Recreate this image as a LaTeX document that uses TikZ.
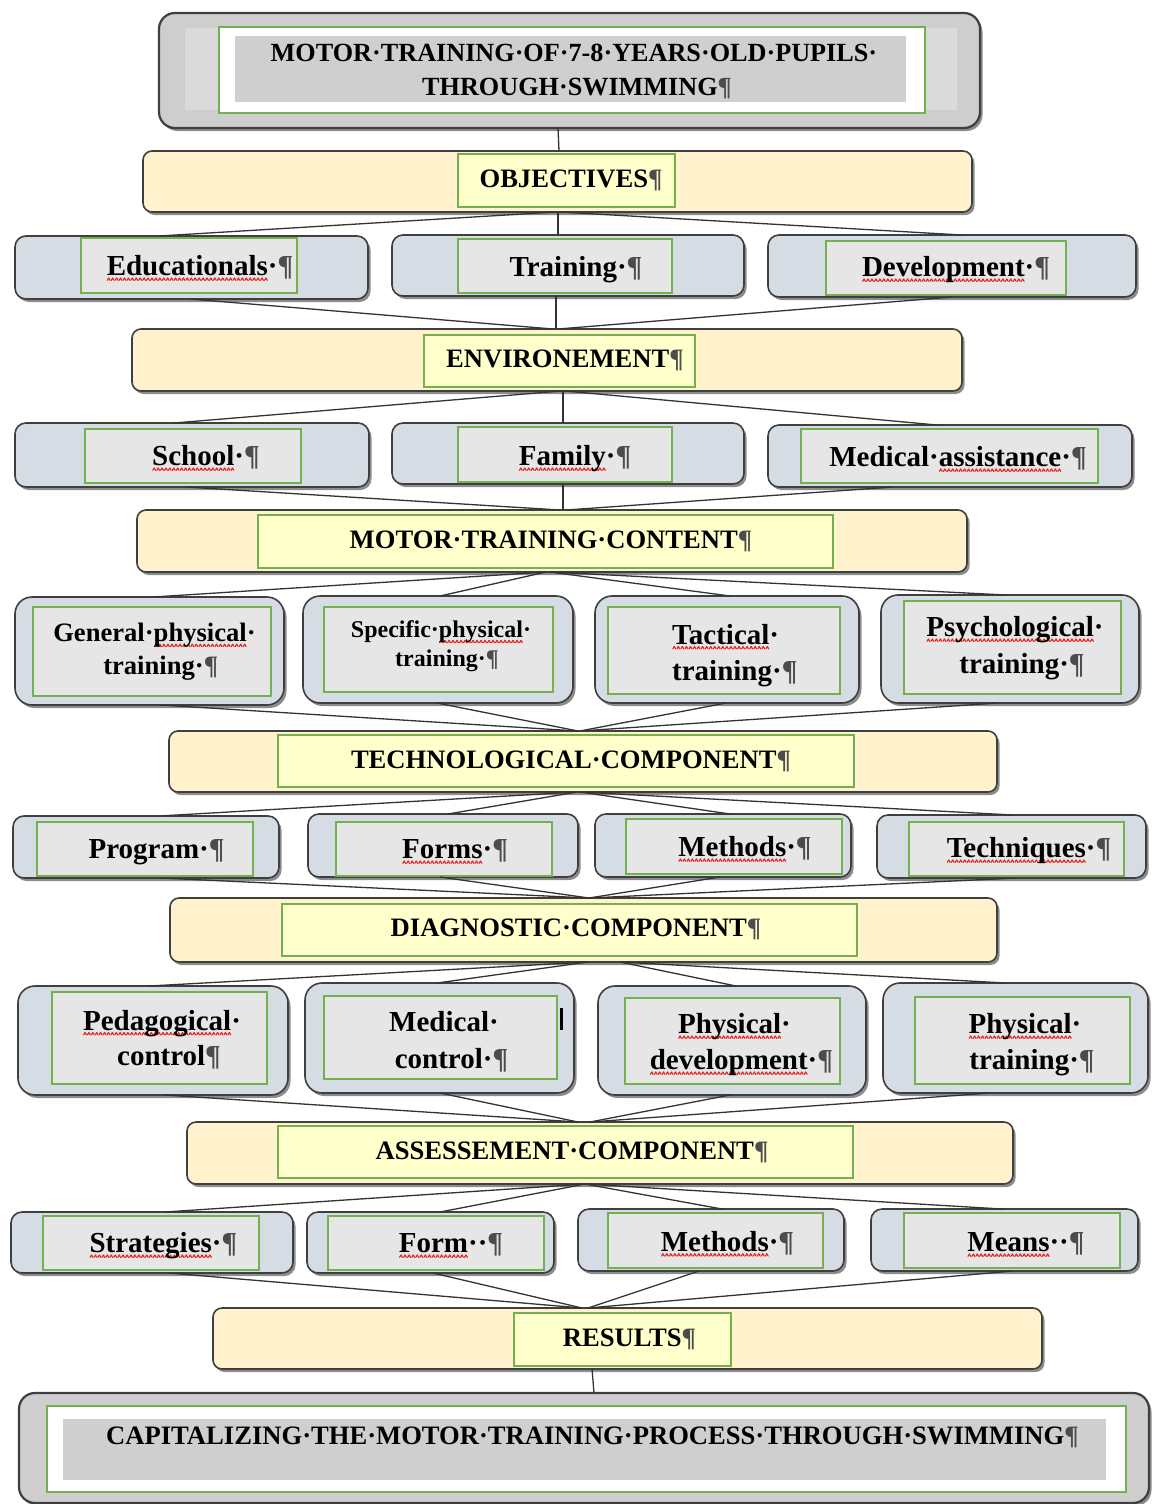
\documentclass[tikz,border=0pt]{standalone}
\usepackage{fontspec}
\setmainfont{Liberation Serif}
\usetikzlibrary{shadows}
\definecolor{bordc}{HTML}{3F3F3F}
\definecolor{hdrfill}{HTML}{FFF2CC}
\definecolor{hdrin}{HTML}{FFFFCC}
\definecolor{itemfill}{HTML}{D6DCE4}
\definecolor{itemin}{HTML}{E6E6E6}
\definecolor{ttlfill}{HTML}{CFCECF}
\definecolor{ttlpanel}{HTML}{DADADA}
\definecolor{ttlin}{HTML}{D0CFD0}
\definecolor{grn}{HTML}{74B14E}
\definecolor{wavered}{HTML}{E8201E}
\newsavebox\wavebox
\newcommand\sq[1]{\leavevmode\setbox0=\hbox{#1}\rlap{\raisebox{-5.4pt}[0pt][0pt]{\hbox to \wd0{\xleaders\copy\wavebox\hfil}}}\box0}
\newcommand\pil{{\color{black!70}¶}}
\newcommand\hdrfont{\bfseries\fontsize{26.6pt}{30pt}\selectfont}
\newcommand\ttlfont{\bfseries\fontsize{26.2pt}{30pt}\selectfont}
\newcommand\itmfont{\bfseries\fontsize{29pt}{33pt}\selectfont}
\newcommand\smlfont{\bfseries\fontsize{24pt}{28pt}\selectfont}
\newcommand\mkbox[6]{%
  \pgfmathsetmacro\bxW{#5-#3}%
  \pgfmathsetmacro\bxH{#6-#4}%
  \pgfmathsetmacro\bxX{(#3+#5)/2}%
  \pgfmathsetmacro\bxY{(#4+#6)/2}%
  \node[#1, minimum width=\bxW pt, minimum height=\bxH pt] (#2) at (\bxX,\bxY) {};}
\tikzset{
  boxbase/.style={inner sep=0pt, outer sep=0pt, rectangle},
  shad/.style={drop shadow={shadow xshift=2.5pt, shadow yshift=-3pt, opacity=0.6, fill=black!75}},
  ttlbox/.style={boxbase, draw=bordc, fill=ttlfill, line width=2.2pt, rounded corners=16pt, shad},
  hdrbox/.style={boxbase, draw=bordc, fill=hdrfill, line width=1.6pt, rounded corners=9pt, shad},
  itembox/.style={boxbase, draw=bordc, fill=itemfill, line width=1.6pt, rounded corners=11pt, shad},
  tallbox/.style={itembox, rounded corners=17pt},
  hdrin/.style={boxbase, draw=grn, fill=hdrin, line width=1.2pt},
  itemin/.style={boxbase, draw=grn, fill=itemin, line width=1.2pt},
  whitein/.style={boxbase, draw=grn, fill=white, line width=1.2pt},
  panel/.style={boxbase, fill=ttlpanel},
  grayin/.style={boxbase, fill=ttlin},
  htxt/.style={inner sep=0pt, font=\hdrfont, text height=17.4pt, text depth=0pt},
  ttxt/.style={inner sep=0pt, font=\ttlfont, text height=17.2pt, text depth=0pt},
  itxt/.style={inner sep=0pt, font=\itmfont, text height=19pt, text depth=0pt},
  stxt/.style={inner sep=0pt, font=\smlfont, text height=15.7pt, text depth=0pt},
  conn/.style={draw=black!80, line width=1.3pt},
}
\begin{document}
\sbox\wavebox{\begin{pgfpicture}%
\pgfpathmoveto{\pgfpoint{0pt}{0pt}}%
\pgfpathlineto{\pgfpoint{1.4pt}{2.4pt}}%
\pgfpathlineto{\pgfpoint{2.8pt}{0pt}}%
\pgfsetstrokecolor{wavered}\pgfsetlinewidth{1.1pt}\pgfsetroundjoin\pgfsetroundcap
\pgfusepath{stroke}%
\end{pgfpicture}}%
\begin{tikzpicture}[x=1pt, y=-1pt]
\useasboundingbox (0,0) rectangle (1151,1504);
% ---- title
\mkbox{ttlbox}{ttl}{159}{13}{980}{128}
\mkbox{panel}{ttlp}{185}{28}{957}{110}
\mkbox{whitein}{ttlw}{219}{27}{925}{113}
\mkbox{grayin}{ttlg}{235}{36}{906}{102}
\node[ttxt] (ttl1) at (574,53) {MOTOR·TRAINING·OF·7-8·YEARS·OLD·PUPILS·};
\node[ttxt] (ttl2) at (577,87) {THROUGH·SWIMMING\pil};
% ---- objectives
\mkbox{hdrbox}{obj}{143}{151}{972}{212}
\mkbox{hdrin}{objI}{458}{154}{675}{207}
\node[htxt] (objT) at (571,179) {OBJECTIVES\pil};
% row 2
\mkbox{itembox}{edu}{15}{236}{368}{299}
\mkbox{itemin}{eduI}{81}{238}{297}{293}
\node[itxt] (eduT) at (200,266) {\sq{Educationals}·\pil};
\mkbox{itembox}{trn}{392}{235}{744}{296}
\mkbox{itemin}{trnI}{458}{239}{672}{293}
\node[itxt] (trnT) at (576,267) {Training·\pil};
\mkbox{itembox}{dev}{768}{235}{1136}{297}
\mkbox{itemin}{devI}{826}{241}{1066}{295}
\node[itxt] (devT) at (956,267) {\sq{Development}·\pil};
% ---- environment
\mkbox{hdrbox}{env}{132}{329}{962}{391}
\mkbox{hdrin}{envI}{424}{335}{695}{387}
\node[htxt] (envT) at (565,359) {ENVIRONEMENT\pil};
% row 4
\mkbox{itembox}{sch}{15}{423}{369}{487}
\mkbox{itemin}{schI}{85}{429}{301}{483}
\node[itxt] (schT) at (206,456) {\sq{School}·\pil};
\mkbox{itembox}{fam}{392}{423}{744}{484}
\mkbox{itemin}{famI}{458}{427}{672}{482}
\node[itxt] (famT) at (575,456) {\sq{Family}·\pil};
\mkbox{itembox}{med}{768}{425}{1132}{487}
\mkbox{itemin}{medI}{801}{429}{1098}{483}
\node[itxt] (medT) at (958,457) {Medical·\sq{assistance}·\pil};
% ---- motor training content
\mkbox{hdrbox}{mtc}{137}{510}{967}{572}
\mkbox{hdrin}{mtcI}{258}{515}{833}{568}
\node[htxt] (mtcT) at (551,540) {MOTOR·TRAINING·CONTENT\pil};
% row 6
\mkbox{tallbox}{gen}{15}{597}{284}{705}
\mkbox{itemin}{genI}{33}{607}{271}{696}
\node[htxt] (genT1) at (154.5,633) {General·\sq{physical}·};
\node[htxt] (genT2) at (160.7,666) {training·\pil};
\mkbox{tallbox}{spe}{303}{596}{573}{703}
\mkbox{itemin}{speI}{324}{607}{553}{692}
\node[stxt] (speT1) at (441,630) {Specific·\sq{physical}·};
\node[stxt] (speT2) at (447,659) {training·\pil};
\mkbox{tallbox}{tac}{595}{596}{859}{703}
\mkbox{itemin}{tacI}{608}{607}{840}{694}
\node[itxt, anchor=west] (tacT1) at (672,634.5) {\sq{Tactical}·};
\node[itxt, anchor=west] (tacT2) at (672,670.5) {training·\pil};
\mkbox{tallbox}{psy}{881}{595}{1139}{703}
\mkbox{itemin}{psyI}{904}{601}{1121}{694}
\node[itxt] (psyT1) at (1015,627) {\sq{Psychological}·};
\node[itxt] (psyT2) at (1022,664) {training·\pil};
% ---- technological component
\mkbox{hdrbox}{tech}{169}{731}{997}{792}
\mkbox{hdrin}{techI}{278}{735}{854}{787}
\node[htxt] (techT) at (571,760) {TECHNOLOGICAL·COMPONENT\pil};
% row 8
\mkbox{itembox}{prog}{13}{816}{279}{878}
\mkbox{itemin}{progI}{37}{822}{253}{876}
\node[itxt] (progT) at (156.6,848.5) {Program·\pil};
\mkbox{itembox}{forms}{308}{814}{578}{877}
\mkbox{itemin}{formsI}{336}{822}{552}{876}
\node[itxt] (formsT) at (455,849) {\sq{Forms}·\pil};
\mkbox{itembox}{meth}{595}{814}{851}{877}
\mkbox{itemin}{methI}{626}{819}{842}{874}
\node[itxt] (methT) at (745,847) {\sq{Methods}·\pil};
\mkbox{itembox}{techq}{877}{815}{1146}{878}
\mkbox{itemin}{techqI}{909}{822}{1124}{876}
\node[itxt] (techqT) at (1029,848) {\sq{Techniques}·\pil};
% ---- diagnostic component
\mkbox{hdrbox}{diag}{170}{898}{997}{962}
\mkbox{hdrin}{diagI}{282}{904}{857}{956}
\node[htxt] (diagT) at (576,927.5) {DIAGNOSTIC·COMPONENT\pil};
% row 10
\mkbox{tallbox}{ped}{18}{986}{288}{1095}
\mkbox{itemin}{pedI}{52}{992}{267}{1084}
\node[itxt] (pedT1) at (162,1020.5) {\sq{Pedagogical}·};
\node[itxt] (pedT2) at (169,1055.5) {control\pil};
\mkbox{tallbox}{mco}{305}{983}{574}{1093}
\mkbox{itemin}{mcoI}{324}{996}{557}{1079}
\node[itxt] (mcoT1) at (444,1022) {Medical·};
\node[itxt] (mcoT2) at (451.5,1058.7) {control·\pil};
\draw[line width=3pt] (561,1008) -- (561,1030);
\mkbox{tallbox}{phd}{598}{986}{866}{1095}
\mkbox{itemin}{phdI}{625}{998}{840}{1084}
\node[itxt] (phdT1) at (734.5,1024) {\sq{Physical}·};
\node[itxt] (phdT2) at (741.4,1060) {\sq{development}·\pil};
\mkbox{tallbox}{pht}{883}{983}{1148}{1093}
\mkbox{itemin}{phtI}{915}{997}{1130}{1084}
\node[itxt] (phtT1) at (1025,1024) {\sq{Physical}·};
\node[itxt] (phtT2) at (1032,1060) {training·\pil};
% ---- assessement component
\mkbox{hdrbox}{ass}{187}{1122}{1013}{1184}
\mkbox{hdrin}{assI}{278}{1126}{853}{1178}
\node[htxt] (assT) at (572,1150.5) {ASSESSEMENT·COMPONENT\pil};
% row 12
\mkbox{itembox}{str}{11}{1212}{293}{1273}
\mkbox{itemin}{strI}{43}{1216}{259}{1270}
\node[itxt] (strT) at (163.4,1243) {\sq{Strategies}·\pil};
\mkbox{itembox}{frm}{307}{1212}{554}{1273}
\mkbox{itemin}{frmI}{328}{1216}{544}{1270}
\node[itxt] (frmT) at (451,1243) {\sq{Form}··\pil};
\mkbox{itembox}{mth2}{578}{1209}{844}{1271}
\mkbox{itemin}{mth2I}{608}{1213}{823}{1268}
\node[itxt] (mth2T) at (727.5,1241.7) {\sq{Methods}·\pil};
\mkbox{itembox}{mns}{871}{1209}{1138}{1271}
\mkbox{itemin}{mnsI}{904}{1213}{1120}{1268}
\node[itxt] (mnsT) at (1026,1242) {\sq{Means}··\pil};
% ---- results
\mkbox{hdrbox}{res}{213}{1308}{1042}{1369}
\mkbox{hdrin}{resI}{514}{1313}{731}{1366}
\node[htxt] (resT) at (629.5,1338) {RESULTS\pil};
% ---- capitalizing
\mkbox{ttlbox}{cap}{19}{1393}{1149}{1503}
\mkbox{whitein}{capW}{47}{1406}{1126}{1492}
\mkbox{grayin}{capG}{63}{1419}{1106}{1480}
\node[htxt] (capT) at (592.5,1435.7) {CAPITALIZING·THE·MOTOR·TRAINING·PROCESS·THROUGH·SWIMMING\pil};
% ---- connectors
\draw[conn] (ttl.south -| 558,0) -- (obj.north -| 559,0);
\draw[conn] (obj.south -| 556,0) -- (edu.north -| 159,0);
\draw[conn] (obj.south -| 558,0) -- (trn.north -| 558,0);
\draw[conn] (obj.south -| 560,0) -- (dev.north -| 962,0);
\draw[conn] (edu.south -| 190,0) -- (env.north -| 553,0);
\draw[conn] (trn.south -| 556,0) -- (env.north -| 556,0);
\draw[conn] (dev.south -| 952,0) -- (env.north -| 558,0);
\draw[conn] (env.south -| 561,0) -- (sch.north -| 174,0);
\draw[conn] (env.south -| 563,0) -- (fam.north -| 563,0);
\draw[conn] (env.south -| 565,0) -- (med.north -| 937,0);
\draw[conn] (sch.south -| 186,0) -- (mtc.north -| 560,0);
\draw[conn] (fam.south -| 563,0) -- (mtc.north -| 563,0);
\draw[conn] (med.south -| 893,0) -- (mtc.north -| 566,0);
\draw[conn] (mtc.south -| 546,0) -- (gen.north -| 153,0);
\draw[conn] (mtc.south -| 546,0) -- (spe.north -| 440,0);
\draw[conn] (mtc.south -| 550,0) -- (tac.north -| 730,0);
\draw[conn] (mtc.south -| 550,0) -- (psy.north -| 1006,0);
\draw[conn] (gen.south -| 161,0) -- (tech.north -| 578,0);
\draw[conn] (spe.south -| 437,0) -- (tech.north -| 578,0);
\draw[conn] (tac.south -| 726,0) -- (tech.north -| 580,0);
\draw[conn] (psy.south -| 998,0) -- (tech.north -| 580,0);
\draw[conn] (tech.south -| 577,0) -- (prog.north -| 159,0);
\draw[conn] (tech.south -| 577,0) -- (forms.north -| 448,0);
\draw[conn] (tech.south -| 580,0) -- (meth.north -| 730,0);
\draw[conn] (tech.south -| 580,0) -- (techq.north -| 1013,0);
\draw[conn] (prog.south -| 161,0) -- (diag.north -| 589,0);
\draw[conn] (forms.south -| 440,0) -- (diag.north -| 589,0);
\draw[conn] (meth.south -| 720,0) -- (diag.north -| 589,0);
\draw[conn] (techq.south -| 1017,0) -- (diag.north -| 589,0);
\draw[conn] (diag.south -| 588,0) -- (ped.north -| 149,0);
\draw[conn] (diag.south -| 588,0) -- (mco.north -| 437,0);
\draw[conn] (diag.south -| 620,0) -- (phd.north -| 736,0);
\draw[conn] (diag.south -| 620,0) -- (pht.north -| 1006,0);
\draw[conn] (ped.south -| 165,0) -- (ass.north -| 578,0);
\draw[conn] (mco.south -| 440,0) -- (ass.north -| 578,0);
\draw[conn] (phd.south -| 730,0) -- (ass.north -| 590,0);
\draw[conn] (pht.south -| 990,0) -- (ass.north -| 590,0);
\draw[conn] (ass.south -| 585,0) -- (str.north -| 165,0);
\draw[conn] (ass.south -| 585,0) -- (frm.north -| 440,0);
\draw[conn] (ass.south -| 585,0) -- (mth2.north -| 722,0);
\draw[conn] (ass.south -| 585,0) -- (mns.north -| 1002,0);
\draw[conn] (str.south -| 169,0) -- (res.north -| 582,0);
\draw[conn] (frm.south -| 433,0) -- (res.north -| 582,0);
\draw[conn] (mth2.south -| 699,0) -- (res.north -| 588,0);
\draw[conn] (mns.south -| 1013,0) -- (res.north -| 588,0);
\draw[conn] (res.south -| 592,0) -- (cap.north -| 594,0);
\end{tikzpicture}
\end{document}
